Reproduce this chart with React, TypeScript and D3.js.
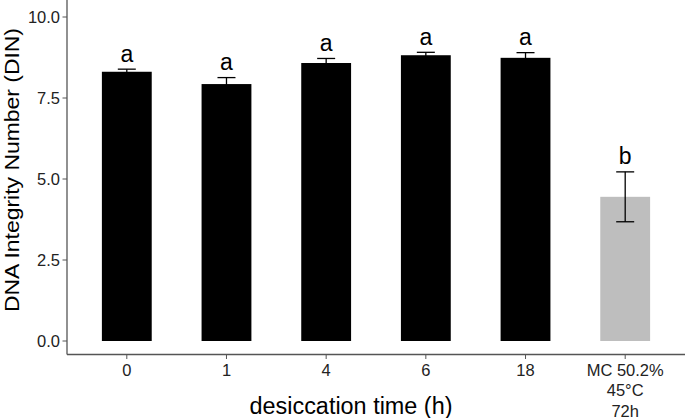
import React from "react";
import * as d3 from "d3";

const categories = ["0", "1", "4", "6", "18", "MC"];
const categoryLabels = [["0"], ["1"], ["4"], ["6"], ["18"], ["MC 50.2%", "45°C", "72h"]];
const means = [8.31, 7.93, 8.58, 8.82, 8.74, 4.45];
const errors = [0.08, 0.2, 0.14, 0.09, 0.16, 0.77];
const letters = ["a", "a", "a", "a", "a", "b"];
const fills = ["#000000", "#000000", "#000000", "#000000", "#000000", "#bebebe"];
const yTicks = [0, 2.5, 5, 7.5, 10];

const W = 685;
const H = 418;
const left = 67;
const right = 685;
const top = 17;
const bottom = 341;
const axisY = 354.5;
const font = "'Liberation Sans', Arial, sans-serif";

export default function App() {
  const x = d3.scaleBand<string>().domain(categories).range([left, right]).paddingInner(0.5).paddingOuter(0.35);
  const y = d3.scaleLinear().domain([0, 10]).range([bottom, top]);
  const capHalf = 9;
  return (
    <svg width={W} height={H} style={{ position: "absolute", left: 0, top: 0, background: "#fff" }}>
      {categories.map((c, i) => {
        const x0 = x(c)!;
        const bw = x.bandwidth();
        const cx = x0 + bw / 2;
        const yt = y(means[i]);
        const ehi = y(means[i] + errors[i]);
        const elo = y(means[i] - errors[i]);
        return (
          <g key={c}>
            <rect x={x0} y={yt} width={bw} height={y(0) - yt} fill={fills[i]} />
            <line x1={cx} x2={cx} y1={ehi} y2={elo} stroke="#000" strokeWidth={1.3} />
            <line x1={cx - capHalf} x2={cx + capHalf} y1={ehi} y2={ehi} stroke="#000" strokeWidth={1.3} />
            <line x1={cx - capHalf} x2={cx + capHalf} y1={elo} y2={elo} stroke="#000" strokeWidth={1.3} />
            <text x={cx} y={ehi - 7.5} textAnchor="middle" fontFamily={font} fontSize={23} fill="#000">
              {letters[i]}
            </text>
            <line x1={cx} x2={cx} y1={axisY} y2={axisY + 4.5} stroke="#555" strokeWidth={1} />
            {categoryLabels[i].map((l, j) => (
              <text key={j} x={cx} y={375.5 + j * 20.5} textAnchor="middle" fontFamily={font} fontSize={16.5} fill="#222">
                {l}
              </text>
            ))}
          </g>
        );
      })}
      <line x1={left} x2={left} y1={0} y2={axisY} stroke="#555" strokeWidth={1.3} />
      <line x1={left} x2={right} y1={axisY} y2={axisY} stroke="#555" strokeWidth={1.3} />
      {yTicks.map((t) => (
        <g key={t}>
          <line x1={left - 4.5} x2={left} y1={y(t)} y2={y(t)} stroke="#555" strokeWidth={1} />
          <text x={left - 7} y={y(t) + 5.8} textAnchor="end" fontFamily={font} fontSize={16.5} fill="#222">
            {d3.format(".1f")(t)}
          </text>
        </g>
      ))}
      <text
        transform={`translate(19,170) rotate(-90)`}
        textAnchor="middle"
        fontFamily={font}
        fontSize={21}
        textLength={284}
        lengthAdjust="spacingAndGlyphs"
        fill="#000"
      >
        DNA Integrity Number (DIN)
      </text>
      <text
        x={351}
        y={414}
        textAnchor="middle"
        fontFamily={font}
        fontSize={23}
        textLength={203}
        lengthAdjust="spacingAndGlyphs"
        fill="#000"
      >
        desiccation time (h)
      </text>
    </svg>
  );
}
